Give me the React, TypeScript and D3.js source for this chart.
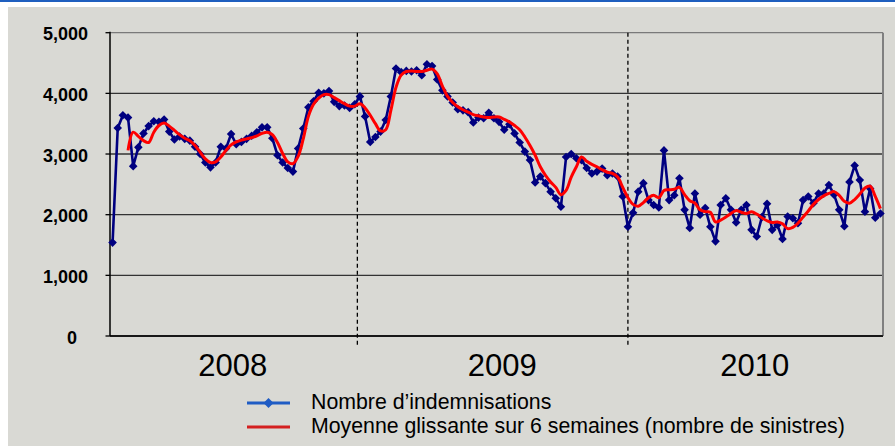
import React from "react";
import * as d3 from "d3";

const years = ["2008", "2009", "2010"];
const weeksPerYear = [48, 52, 50];
// label anchor (in week index units) and year boundary positions
const yearLabelWeek = [23.3, 75.6, 124.6];
const yearBoundaryWeek = [47.5, 100];

const indemnisations2008 = [
  1540, 3430, 3640, 3600, 2800, 3110, 3340, 3460, 3540, 3530, 3570, 3370,
  3240, 3290, 3250, 3220, 3120, 3000, 2860, 2780, 2860, 3120, 3090, 3330,
  3160, 3200, 3250, 3300, 3360, 3440, 3440, 3260, 2980, 2860, 2770, 2710,
  3090, 3420, 3770, 3870, 4010, 4000, 4040, 3860, 3790, 3800, 3760, 3820,
];
const indemnisations2009 = [
  3950, 3620, 3200, 3280, 3370, 3560, 3950, 4410, 4350, 4370, 4360, 4380,
  4300, 4480, 4450, 4230, 4050, 3950, 3850, 3740, 3720, 3690, 3520, 3600,
  3590, 3680, 3590, 3530, 3400, 3490, 3340, 3190, 3040, 2900, 2530, 2630,
  2520, 2380, 2270, 2130, 2950, 3000, 2930, 2900, 2770, 2680, 2710, 2760,
  2650, 2680, 2630, 2300,
];
const indemnisations2010 = [
  1800, 2030, 2380, 2520, 2240, 2160, 2120, 3060, 2240, 2320, 2600, 2080,
  1780, 2350, 2000, 2110, 1800, 1560, 2160, 2270, 2080, 1870, 2080, 2160,
  1750, 1640, 1960, 2180, 1750, 1830, 1600, 1970, 1940, 1860, 2240, 2300,
  2190, 2350, 2350, 2490, 2330, 2080, 1810, 2540, 2810, 2570, 2050, 2430,
  1950, 2020,
];

const moyenne2008: (number | null)[] = [
  null, null, null, 3060, 3360, 3290, 3220, 3190, 3360, 3470, 3510, 3460,
  3390, 3320, 3260, 3220, 3140, 3030, 2920, 2860, 2870, 2950, 3060, 3150,
  3200, 3230, 3250, 3270, 3300, 3340, 3360, 3320, 3190, 3010, 2870, 2840,
  2960, 3250, 3620, 3820, 3920, 3980, 3980, 3930, 3880, 3830, 3790, 3790,
];
const moyenne2009: (number | null)[] = [
  3830, 3760, 3640, 3500, 3380, 3400, 3720, 4100, 4300, 4360, 4370, 4360,
  4360, 4380, 4400, 4320, 4120, 3950, 3850, 3780, 3730, 3690, 3650, 3630,
  3610, 3600, 3610, 3610, 3570, 3530, 3470, 3400, 3280, 3140, 2980, 2790,
  2650, 2540, 2450, 2330, 2400, 2620, 2790, 2950, 2880, 2830, 2790, 2740,
  2700, 2680, 2620, 2450,
];
const moyenne2010: (number | null)[] = [
  2280, 2170, 2140, 2200, 2280, 2320, 2280, 2400, 2410, 2420, 2450, 2330,
  2230, 2190, 2080, 2050, 2040, 1880, 1910, 1960, 2020, 2070, 2040, 2020,
  2050, 2010, 1950, 1900, 1870, 1880, 1850, 1770, 1790, 1860, 1960, 2060,
  2170, 2250, 2310, 2350, 2380, 2320, 2220, 2190, 2250, 2340, 2440, 2470,
  2300, 2100,
];

const yTicks = [0, 1000, 2000, 3000, 4000, 5000];
const legendLabels = [
  "Nombre d\u2019indemnisations",
  "Moyenne glissante sur 6 semaines (nombre de sinistres)",
];

const W = 895;
const H = 446;
const plot = { left: 110, right: 883, top: 32.7, bottom: 336 };
const FONT = "'Liberation Sans', Arial, Helvetica, sans-serif";

export default function App() {
  const indem = [...indemnisations2008, ...indemnisations2009, ...indemnisations2010];
  const moy = [...moyenne2008, ...moyenne2009, ...moyenne2010];
  const N = indem.length;
  void weeksPerYear;

  const x = d3.scaleLinear().domain([-0.5, N - 0.5]).range([plot.left, plot.right]);
  const y = d3.scaleLinear().domain([0, 5000]).range([plot.bottom, plot.top]);

  const blueLine = d3
    .line<number>()
    .x((_, i) => x(i))
    .y((d) => y(d))(indem) as string;

  const redLine = d3
    .line<number | null>()
    .defined((d) => d != null)
    .x((_, i) => x(i))
    .y((d) => y(d as number))
    .curve(d3.curveCatmullRom.alpha(0.5))(moy) as string;

  const fmt = d3.format(",");
  const r = 4.3;
  const diamond = (cx: number, cy: number, rr: number) =>
    `M${cx},${cy - rr}L${cx + rr},${cy}L${cx},${cy + rr}L${cx - rr},${cy}Z`;

  return (
    <svg
      width={W}
      height={H}
      style={{ position: "absolute", left: 0, top: 0, display: "block" }}
      fontFamily={FONT}
    >
      <rect x={0} y={0} width={W} height={H} fill="#ffffff" />
      <rect x={8} y={7} width={W - 8} height={H - 7} fill="#d9d9d4" />
      <rect x={0} y={0} width={W} height={2} fill="#1f5fbf" />

      {/* gridlines */}
      {yTicks.map((t) => (
        <g key={t}>
          <line
            x1={plot.left}
            x2={plot.right}
            y1={y(t)}
            y2={y(t)}
            stroke={t === 5000 ? "#7a7a7a" : "#333333"}
            strokeWidth={1.3}
          />
          <line x1={plot.left - 4.5} x2={plot.left} y1={y(t)} y2={y(t)} stroke="#000" strokeWidth={1.3} />
          <text
            x={t === 0 ? 77 : 88}
            y={y(t) + 3}
            fontSize={18}
            fontWeight="bold"
            textAnchor="end"
            dominantBaseline="middle"
            fill="#000"
          >
            {fmt(t)}
          </text>
        </g>
      ))}
      {/* right border */}
      <line x1={plot.right} x2={plot.right} y1={plot.top} y2={plot.bottom} stroke="#808080" strokeWidth={2} />
      {/* axes */}
      <line x1={plot.left} x2={plot.left} y1={plot.top - 1} y2={plot.bottom} stroke="#000" strokeWidth={1.5} />
      <line x1={plot.left} x2={plot.right} y1={plot.bottom} y2={plot.bottom} stroke="#000" strokeWidth={1.5} />

      {/* year separators */}
      {yearBoundaryWeek.map((b) => (
        <line
          key={b}
          x1={x(b)}
          x2={x(b)}
          y1={plot.top}
          y2={plot.bottom + 10}
          stroke="#000"
          strokeWidth={1.3}
          strokeDasharray="4,3"
        />
      ))}

      {/* year labels */}
      {years.map((yr, k) => (
        <text key={yr} x={x(yearLabelWeek[k])} y={376} fontSize={31} textAnchor="middle" fill="#000">
          {yr}
        </text>
      ))}

      {/* series */}
      <path d={blueLine} fill="none" stroke="#000080" strokeWidth={2.6} strokeLinejoin="round" />
      {indem.map((d, i) => (
        <path key={i} d={diamond(x(i), y(d), r)} fill="#000080" />
      ))}
      <path d={redLine} fill="none" stroke="#ff0000" strokeWidth={3} strokeLinejoin="round" />

      {/* legend */}
      <line x1={247} x2={290} y1={403} y2={403} stroke="#1f5cc4" strokeWidth={3} />
      <path d={diamond(268.5, 403, 5)} fill="#1f5cc4" />
      <text x={311} y={403} fontSize={21.3} dominantBaseline="middle" fill="#000">
        {legendLabels[0]}
      </text>
      <line x1={247} x2={290} y1={427} y2={427} stroke="#d42020" strokeWidth={3} />
      <text x={311} y={427} fontSize={21.3} dominantBaseline="middle" fill="#000">
        {legendLabels[1]}
      </text>
    </svg>
  );
}
